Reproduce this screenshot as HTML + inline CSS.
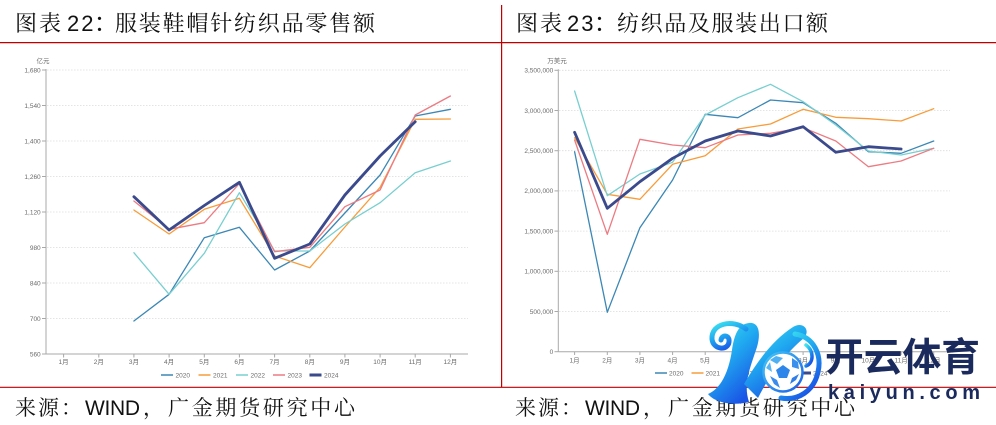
<!DOCTYPE html>
<html>
<head>
<meta charset="utf-8">
<style>
  html,body{margin:0;padding:0;background:#fff;}
  svg{display:block;}
  .ax{font-family:"Liberation Sans","Noto Sans CJK SC",sans-serif;font-size:6.5px;fill:#6b6b6b;}
  .ttl{font-family:"Liberation Serif","Noto Serif CJK SC",serif;font-size:22px;fill:#111;}
  .ft{font-family:"Liberation Serif","Noto Serif CJK SC",serif;font-size:21px;fill:#111;}
  .lat{font-family:"Liberation Sans",sans-serif;}
</style>
</head>
<body>
<svg width="996" height="425" viewBox="0 0 996 425" xmlns="http://www.w3.org/2000/svg">
  <defs>
    <linearGradient id="kg" x1="0" y1="0" x2="0.6" y2="1">
      <stop offset="0" stop-color="#3fe6ee"/>
      <stop offset="0.5" stop-color="#1fa6f0"/>
      <stop offset="1" stop-color="#1a55e6"/>
    </linearGradient>
    <linearGradient id="bg" x1="0" y1="0" x2="1" y2="1">
      <stop offset="0" stop-color="#45c8f5"/>
      <stop offset="1" stop-color="#1a5ee8"/>
    </linearGradient>
  </defs>
  <rect width="996" height="425" fill="#fff"/>

  <!-- frame lines -->
  <line x1="0" y1="42.6" x2="996" y2="42.6" stroke="#c00000" stroke-width="1.2"/>
  <line x1="501.6" y1="5" x2="501.6" y2="387.3" stroke="#c00000" stroke-width="1.2"/>
  <line x1="0" y1="387.3" x2="996" y2="387.3" stroke="#c00000" stroke-width="1.2"/>

  <!-- titles -->
  <text class="ttl" x="15" y="31" letter-spacing="2">图表</text>
  <text class="ttl lat" x="67" y="31" style="font-family:'Liberation Sans',sans-serif;" letter-spacing="2">22</text>
  <text class="ttl" x="94" y="31" style="font-family:'Noto Sans CJK SC',sans-serif;">：</text>
  <text class="ttl" x="115" y="31" textLength="260" lengthAdjust="spacing">服装鞋帽针纺织品零售额</text>

  <text class="ttl" x="516" y="31" letter-spacing="2">图表</text>
  <text class="ttl lat" x="567" y="31" style="font-family:'Liberation Sans',sans-serif;" letter-spacing="2">23</text>
  <text class="ttl" x="594" y="31" style="font-family:'Noto Sans CJK SC',sans-serif;">：</text>
  <text class="ttl" x="617" y="31" textLength="211" lengthAdjust="spacing">纺织品及服装出口额</text>

  <!-- footers -->
  <text class="ft" x="15" y="415" letter-spacing="2">来源：</text>
  <text class="ft" x="85" y="415" style="font-family:'Liberation Sans',sans-serif;" textLength="55" lengthAdjust="spacing">WIND</text>
  <text class="ft" x="143" y="415">，</text>
  <text class="ft" x="168" y="415" textLength="187" lengthAdjust="spacing">广金期货研究中心</text>

  <text class="ft" x="515" y="415" letter-spacing="2">来源：</text>
  <text class="ft" x="585" y="415" style="font-family:'Liberation Sans',sans-serif;" textLength="55" lengthAdjust="spacing">WIND</text>
  <text class="ft" x="643" y="415">，</text>
  <text class="ft" x="668" y="415" textLength="187" lengthAdjust="spacing">广金期货研究中心</text>

  <!-- ============ LEFT CHART ============ -->
  <g stroke="#dcdcdc" stroke-width="0.8" stroke-dasharray="1.5 1.5">
    <line x1="47" y1="70" x2="468" y2="70"/>
    <line x1="47" y1="105.5" x2="468" y2="105.5"/>
    <line x1="47" y1="141" x2="468" y2="141"/>
    <line x1="47" y1="176.5" x2="468" y2="176.5"/>
    <line x1="47" y1="212" x2="468" y2="212"/>
    <line x1="47" y1="247.5" x2="468" y2="247.5"/>
    <line x1="47" y1="283" x2="468" y2="283"/>
    <line x1="47" y1="318.5" x2="468" y2="318.5"/>
  </g>
  <g stroke="#a8a8a8" stroke-width="1">
    <line x1="46" y1="69" x2="46" y2="354"/>
    <line x1="46" y1="354" x2="468" y2="354"/>
    <line x1="42" y1="70" x2="46" y2="70"/>
    <line x1="42" y1="105.5" x2="46" y2="105.5"/>
    <line x1="42" y1="141" x2="46" y2="141"/>
    <line x1="42" y1="176.5" x2="46" y2="176.5"/>
    <line x1="42" y1="212" x2="46" y2="212"/>
    <line x1="42" y1="247.5" x2="46" y2="247.5"/>
    <line x1="42" y1="283" x2="46" y2="283"/>
    <line x1="42" y1="318.5" x2="46" y2="318.5"/>
    <line x1="42" y1="354" x2="46" y2="354"/>
    <line x1="63.6" y1="354" x2="63.6" y2="357.5"/>
    <line x1="98.8" y1="354" x2="98.8" y2="357.5"/>
    <line x1="133.9" y1="354" x2="133.9" y2="357.5"/>
    <line x1="169.1" y1="354" x2="169.1" y2="357.5"/>
    <line x1="204.3" y1="354" x2="204.3" y2="357.5"/>
    <line x1="239.4" y1="354" x2="239.4" y2="357.5"/>
    <line x1="274.6" y1="354" x2="274.6" y2="357.5"/>
    <line x1="309.8" y1="354" x2="309.8" y2="357.5"/>
    <line x1="344.9" y1="354" x2="344.9" y2="357.5"/>
    <line x1="380.1" y1="354" x2="380.1" y2="357.5"/>
    <line x1="415.2" y1="354" x2="415.2" y2="357.5"/>
    <line x1="450.4" y1="354" x2="450.4" y2="357.5"/>
  </g>
  <g class="ax" text-anchor="end">
    <text x="40.7" y="72.3">1,680</text>
    <text x="40.7" y="107.8">1,540</text>
    <text x="40.7" y="143.3">1,400</text>
    <text x="40.7" y="178.8">1,260</text>
    <text x="40.7" y="214.3">1,120</text>
    <text x="40.7" y="249.8">980</text>
    <text x="40.7" y="285.3">840</text>
    <text x="40.7" y="320.8">700</text>
    <text x="40.7" y="356.3">560</text>
  </g>
  <text class="ax" x="43" y="63" text-anchor="middle">亿元</text>
  <g class="ax" text-anchor="middle">
    <text x="63.6" y="364">1月</text>
    <text x="98.8" y="364">2月</text>
    <text x="133.9" y="364">3月</text>
    <text x="169.1" y="364">4月</text>
    <text x="204.3" y="364">5月</text>
    <text x="239.4" y="364">6月</text>
    <text x="274.6" y="364">7月</text>
    <text x="309.8" y="364">8月</text>
    <text x="344.9" y="364">9月</text>
    <text x="380.1" y="364">10月</text>
    <text x="415.2" y="364">11月</text>
    <text x="450.4" y="364">12月</text>
  </g>
  <g fill="none" stroke-linejoin="round" stroke-linecap="round">
    <polyline stroke="#3b87b5" stroke-width="1.3" points="133.9,321 169.1,294.3 204.3,237.7 239.4,227.3 274.6,270 309.8,251 344.9,213 380.1,175 415.2,116 450.4,109.3"/>
    <polyline stroke="#f89c3a" stroke-width="1.3" points="133.9,210 169.1,234 204.3,209.3 239.4,198.3 274.6,256 309.8,267.7 344.9,227 380.1,187.3 415.2,119.3 450.4,119"/>
    <polyline stroke="#78cfd0" stroke-width="1.3" points="133.9,252.7 169.1,294.3 204.3,253.3 239.4,192.7 274.6,251 309.8,251 344.9,224 380.1,202.7 415.2,172.7 450.4,161"/>
    <polyline stroke="#ec7b82" stroke-width="1.3" points="133.9,201 169.1,229.3 204.3,222.7 239.4,183.5 274.6,251.7 309.8,247.3 344.9,206.7 380.1,190 415.2,115 450.4,96"/>
    <polyline stroke="#3a4a8c" stroke-width="2.8" points="133.9,196.7 169.1,230 204.3,205.5 239.4,182.3 274.6,258.3 309.8,244 344.9,195 380.1,156 415.2,121.7"/>
  </g>
  <!-- left legend -->
  <g class="ax">
    <line x1="161" y1="375" x2="173" y2="375" stroke="#3b87b5" stroke-width="1.5"/>
    <text x="175.5" y="377.3">2020</text>
    <line x1="198.5" y1="375" x2="210.5" y2="375" stroke="#f89c3a" stroke-width="1.5"/>
    <text x="213" y="377.3">2021</text>
    <line x1="236" y1="375" x2="248" y2="375" stroke="#78cfd0" stroke-width="1.5"/>
    <text x="250.5" y="377.3">2022</text>
    <line x1="273" y1="375" x2="285" y2="375" stroke="#ec7b82" stroke-width="1.5"/>
    <text x="287.5" y="377.3">2023</text>
    <line x1="309.5" y1="375" x2="321.5" y2="375" stroke="#3a4a8c" stroke-width="3"/>
    <text x="324" y="377.3">2024</text>
  </g>

  <!-- ============ RIGHT CHART ============ -->
  <g stroke="#dcdcdc" stroke-width="0.8" stroke-dasharray="1.5 1.5">
    <line x1="559" y1="70.3" x2="950" y2="70.3"/>
    <line x1="559" y1="110.5" x2="950" y2="110.5"/>
    <line x1="559" y1="150.7" x2="950" y2="150.7"/>
    <line x1="559" y1="190.9" x2="950" y2="190.9"/>
    <line x1="559" y1="231.1" x2="950" y2="231.1"/>
    <line x1="559" y1="271.3" x2="950" y2="271.3"/>
    <line x1="559" y1="311.5" x2="950" y2="311.5"/>
  </g>
  <g stroke="#a8a8a8" stroke-width="1">
    <line x1="558.3" y1="69.3" x2="558.3" y2="351.7"/>
    <line x1="558.3" y1="351.7" x2="950" y2="351.7"/>
    <line x1="554.5" y1="70.3" x2="558.3" y2="70.3"/>
    <line x1="554.5" y1="110.5" x2="558.3" y2="110.5"/>
    <line x1="554.5" y1="150.7" x2="558.3" y2="150.7"/>
    <line x1="554.5" y1="190.9" x2="558.3" y2="190.9"/>
    <line x1="554.5" y1="231.1" x2="558.3" y2="231.1"/>
    <line x1="554.5" y1="271.3" x2="558.3" y2="271.3"/>
    <line x1="554.5" y1="311.5" x2="558.3" y2="311.5"/>
    <line x1="554.5" y1="351.7" x2="558.3" y2="351.7"/>
    <line x1="574.6" y1="351.7" x2="574.6" y2="355"/>
    <line x1="607.3" y1="351.7" x2="607.3" y2="355"/>
    <line x1="639.9" y1="351.7" x2="639.9" y2="355"/>
    <line x1="672.6" y1="351.7" x2="672.6" y2="355"/>
    <line x1="705.2" y1="351.7" x2="705.2" y2="355"/>
    <line x1="737.9" y1="351.7" x2="737.9" y2="355"/>
    <line x1="770.5" y1="351.7" x2="770.5" y2="355"/>
    <line x1="803.1" y1="351.7" x2="803.1" y2="355"/>
    <line x1="835.8" y1="351.7" x2="835.8" y2="355"/>
    <line x1="868.4" y1="351.7" x2="868.4" y2="355"/>
    <line x1="901.1" y1="351.7" x2="901.1" y2="355"/>
    <line x1="933.7" y1="351.7" x2="933.7" y2="355"/>
  </g>
  <g class="ax" text-anchor="end">
    <text x="553.3" y="72.6">3,500,000</text>
    <text x="553.3" y="112.8">3,000,000</text>
    <text x="553.3" y="153">2,500,000</text>
    <text x="553.3" y="193.2">2,000,000</text>
    <text x="553.3" y="233.4">1,500,000</text>
    <text x="553.3" y="273.6">1,000,000</text>
    <text x="553.3" y="313.8">500,000</text>
    <text x="553.3" y="354">0</text>
  </g>
  <text class="ax" x="557" y="63" text-anchor="middle">万美元</text>
  <g class="ax" text-anchor="middle">
    <text x="574.6" y="362.5">1月</text>
    <text x="607.3" y="362.5">2月</text>
    <text x="639.9" y="362.5">3月</text>
    <text x="672.6" y="362.5">4月</text>
    <text x="705.2" y="362.5">5月</text>
    <text x="737.9" y="362.5">6月</text>
    <text x="770.5" y="362.5">7月</text>
    <text x="803.1" y="362.5">8月</text>
    <text x="835.8" y="362.5">9月</text>
    <text x="868.4" y="362.5">10月</text>
    <text x="901.1" y="362.5">11月</text>
    <text x="933.7" y="362.5">12月</text>
  </g>
  <g fill="none" stroke-linejoin="round" stroke-linecap="round">
    <polyline stroke="#3b87b5" stroke-width="1.3" points="574.6,151.7 607.3,312.3 639.9,227.7 672.6,180 705.2,114.3 737.9,117.7 770.5,100 803.1,102.7 835.8,123.3 868.4,151.7 901.1,153.3 933.7,141"/>
    <polyline stroke="#f89c3a" stroke-width="1.3" points="574.6,137.7 607.3,194.3 639.9,199.3 672.6,164.3 705.2,155.7 737.9,129 770.5,124 803.1,109.3 835.8,117.3 868.4,118.7 901.1,121 933.7,108.7"/>
    <polyline stroke="#78cfd0" stroke-width="1.3" points="574.6,91 607.3,195.7 639.9,174 672.6,162.3 705.2,115 737.9,97.7 770.5,84.3 803.1,101.7 835.8,125 868.4,151 901.1,155 933.7,148.3"/>
    <polyline stroke="#ec7b82" stroke-width="1.3" points="574.6,140 607.3,234.3 639.9,139.3 672.6,145 705.2,147.7 737.9,135 770.5,133.3 803.1,127.7 835.8,141 868.4,166.7 901.1,161 933.7,148.3"/>
    <polyline stroke="#3a4a8c" stroke-width="2.8" points="574.6,132.3 607.3,208.3 639.9,181.7 672.6,158.3 705.2,141 737.9,131 770.5,136 803.1,126.7 835.8,152.3 868.4,146.7 901.1,149"/>
  </g>
  <!-- right legend -->
  <g class="ax">
    <line x1="655" y1="373" x2="667" y2="373" stroke="#3b87b5" stroke-width="1.5"/>
    <text x="669" y="375.3">2020</text>
    <line x1="691.5" y1="373" x2="703.5" y2="373" stroke="#f89c3a" stroke-width="1.5"/>
    <text x="705.5" y="375.3">2021</text>
    <line x1="728" y1="373" x2="740" y2="373" stroke="#78cfd0" stroke-width="1.5"/>
    <text x="742" y="375.3">2022</text>
    <line x1="764.5" y1="373" x2="776.5" y2="373" stroke="#ec7b82" stroke-width="1.5"/>
    <text x="778.5" y="375.3">2023</text>
    <line x1="799" y1="373" x2="811" y2="373" stroke="#3a4a8c" stroke-width="3"/>
    <text x="813" y="375.3">2024</text>
  </g>

  <!-- ============ WATERMARK ============ -->
  <g>
    <!-- left stroke of K -->
    <path d="M749,323 C759,322 761,333 757,347 C750,368 743,384 749,402 C734,406 715,403 708,394 C722,388 729,370 732,350 C734,336 738,324 749,323 Z" fill="url(#kg)"/>
    <!-- top-left curl -->
    <path d="M746,329 C733,319 711,323 712,339 C713,350 728,351 729,342 C730,335 722,334 721,340" fill="none" stroke="url(#kg)" stroke-width="5" stroke-linecap="round"/>
    <!-- right arm -->
    <path d="M744,384 C758,360 774,339 793,327 C803,321 811,330 804,338 C789,350 771,372 758,398 Z" fill="url(#kg)"/>
    <!-- swirl around ball -->
    <path d="M795,334 C814,337 822,355 818,372 C814,391 798,401 781,398" fill="none" stroke="url(#kg)" stroke-width="5" stroke-linecap="round"/>
    <path d="M806,345 C814,351 814,363 806,366" fill="none" stroke="url(#kg)" stroke-width="3.5" stroke-linecap="round"/>
    <!-- ball -->
    <circle cx="783" cy="372" r="19.5" fill="#fff" stroke="url(#bg)" stroke-width="2.5"/>
    <polygon points="783,365 790,370 787,378 779,378 776,370" fill="#2f86ea"/>
    <path d="M770,360 L776,356 L783,358 L777,364 Z" fill="#4fb0f2"/>
    <path d="M792,358 L798,362 L799,369 L792,367 Z" fill="#3a90ec"/>
    <path d="M770,376 L774,384 L780,388 L777,380 Z" fill="#3a8cec"/>
    <path d="M790,384 L796,380 L799,374 L792,378 Z" fill="#2f7ee8"/>
    <path d="M766,368 L770,362 L772,372 Z" fill="#56b6f4"/>
    <!-- text -->
    <text x="825" y="371" style="font-family:'Noto Sans CJK SC','WenQuanYi Zen Hei',sans-serif;font-weight:700;" font-size="39" fill="#1b2a5c" textLength="155" lengthAdjust="spacingAndGlyphs">开云体育</text>
    <text x="828" y="399" style="font-family:'Liberation Sans',sans-serif;font-weight:700;" font-size="20" fill="#1b2a5c" textLength="152" lengthAdjust="spacing">kaiyun.com</text>
  </g>
</svg>
</body>
</html>
